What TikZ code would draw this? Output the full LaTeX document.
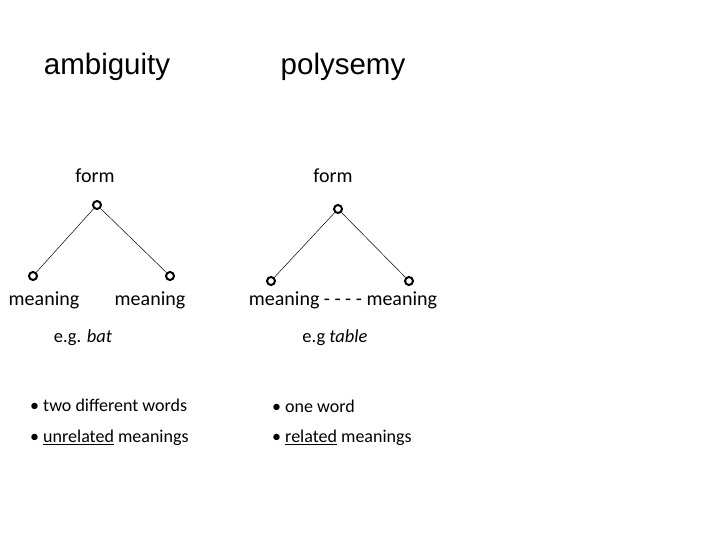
\documentclass[tikz,border=0pt]{standalone}
\usepackage{fontspec}
\setmainfont{Carlito}
\newfontfamily\titlefont{Liberation Sans}
\begin{document}
\begin{tikzpicture}[x=1pt,y=-1pt,
  title/.style={font=\titlefont\fontsize{29.5}{34}\selectfont, inner sep=0pt},
  lbl/.style={font=\fontsize{20}{23}\selectfont, inner sep=0pt},
  bul/.style={font=\fontsize{18}{21}\selectfont, inner sep=0pt, anchor=west},
  dot/.style={circle, draw, line width=2pt, minimum size=8pt, inner sep=0pt},
  edge/.style={line width=0.5pt}]
\useasboundingbox (0,0) rectangle (720,540);
\node[title] (t1) at (107,67) {ambiguity};
\node[title] (t2) at (343,67) {polysemy};
\node[lbl] (f1) at (95,176) {form};
\node[lbl] (f2) at (333,176) {form};
\node[dot] (a) at (97,205) {};
\node[dot] (b) at (33,276) {};
\node[dot] (c) at (170,276) {};
\node[dot] (d) at (338,209) {};
\node[dot] (e) at (271,281) {};
\node[dot] (g) at (409,281) {};
\draw[edge] (a) -- (b);
\draw[edge] (a) -- (c);
\draw[edge] (d) -- (e);
\draw[edge] (d) -- (g);
\node[lbl] (m1) at (44,300) {meaning};
\node[lbl] (m2) at (150,300) {meaning};
\node[lbl] (m3) at (343,300) {meaning - - - - meaning};
\node[lbl, font=\fontsize{18.5}{21}\selectfont] (eg1) at (83,338) {e.g. \textit{bat}};
\node[lbl, font=\fontsize{18.5}{21}\selectfont] (eg2) at (335,338) {e.g \textit{table}};
\node[bul] (b1) at (30,405) {\textbullet\ two different words};
\node[bul] (b2) at (30,438) {\textbullet\ \underline{unrelated} meanings};
\node[bul] (b3) at (272,406) {\textbullet\ one word};
\node[bul] (b4) at (272,438) {\textbullet\ \underline{related} meanings};
\end{tikzpicture}
\end{document}
